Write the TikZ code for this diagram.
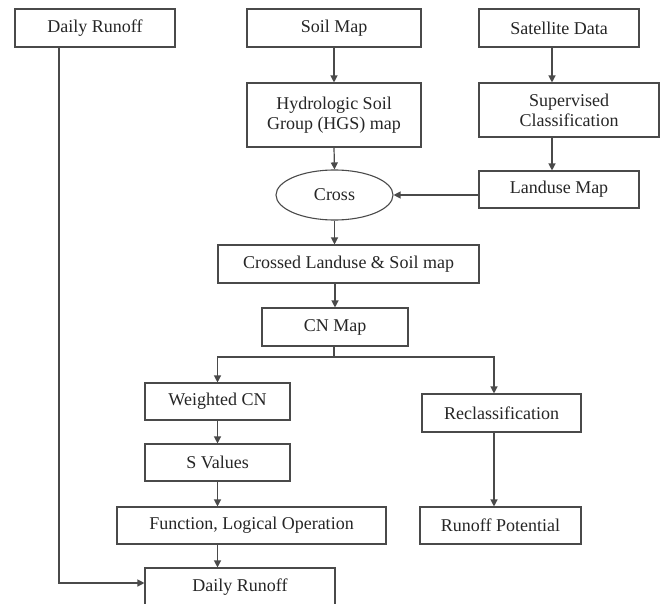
\documentclass[tikz,border=0pt]{standalone}
\usepackage{fontspec}
\setmainfont{Liberation Serif}
\usetikzlibrary{arrows.meta,shapes.geometric}
\definecolor{linec}{HTML}{4A4A4A}
\definecolor{textc}{HTML}{262626}
\begin{document}
\begin{tikzpicture}[x=1pt,y=-1pt,
  box/.style={draw=linec,line width=1.1pt,rectangle,inner sep=0pt,align=center,
    text=textc,font=\fontsize{18}{20}\selectfont},
  oval/.style={draw=linec,line width=1.1pt,ellipse,inner sep=0pt,
    text=textc,font=\fontsize{18}{20}\selectfont},
  conn/.style={draw=linec,line width=1.2pt},
  arr/.style={conn,-{Triangle[width=7pt,length=7pt]}}]
\useasboundingbox (0,0) rectangle (664,604);
\clip (0,0) rectangle (664,604);
\fill[white] (0,0) rectangle (664,604);
% nodes
\node[box,minimum width=160pt,minimum height=38pt] (dr1) at (95,28) {Daily Runoff};
\node[box,minimum width=174pt,minimum height=38pt] (soil) at (334,28) {Soil Map};
\node[box,minimum width=160pt,minimum height=38pt] (sat) at (559,28) {Satellite Data};
\node[box,minimum width=174pt,minimum height=64pt] (hsg) at (334,115) {Hydrologic Soil\\Group (HGS) map};
\node[box,minimum width=180pt,minimum height=54pt] (sup) at (569,110) {Supervised\\Classification};
\node[box,minimum width=160pt,minimum height=37pt] (land) at (559,189.5) {Landuse Map};
\node[oval,minimum width=117pt,minimum height=50pt] (cross) at (334.5,195) {Cross};
\node[box,minimum width=261pt,minimum height=38pt] (crossed) at (348.5,264) {Crossed Landuse \& Soil map};
\node[box,minimum width=146pt,minimum height=38pt] (cn) at (335,327) {CN Map};
\node[box,minimum width=145pt,minimum height=37pt] (wcn) at (217.5,401.5) {Weighted CN};
\node[box,minimum width=159pt,minimum height=38pt] (recl) at (501.5,413) {Reclassification};
\node[box,minimum width=145pt,minimum height=37pt] (sval) at (217.5,462.5) {S Values};
\node[box,minimum width=269pt,minimum height=37pt] (func) at (251.5,525.5) {Function, Logical Operation};
\node[box,minimum width=161pt,minimum height=37pt] (rpot) at (500.5,525.5) {Runoff Potential};
\node[box,minimum width=190pt,minimum height=38pt] (dr2) at (240,587) {Daily Runoff};
% helper coordinates
\coordinate (sx) at (552,0);
\coordinate (br) at (334,357);
\coordinate (rx) at (494,0);
\coordinate (lx) at (59,0);
\coordinate (ly) at (0,583);
% connectors
\draw[arr] (soil) -- (hsg);
\draw[arr] (hsg.south) -- (cross.north);
\draw[arr] (sat.south -| sx) -- (sup.north -| sx);
\draw[arr] (sup.south -| sx) -- (land.north -| sx);
\draw[arr] (land.west |- cross.east) -- (cross.east);
\draw[arr] (cross.south) -- (crossed.north -| cross.south);
\draw[arr] (crossed.south -| cn.north) -- (cn.north);
\draw[conn] (cn.south -| br) -- (br);
\draw[arr] (br) -| (wcn.north);
\draw[arr] (br) -| (recl.north -| rx);
\draw[arr] (recl.south -| rx) -- (rpot.north -| rx);
\draw[arr] (wcn) -- (sval);
\draw[arr] (sval.south) -- (func.north -| sval.south);
\draw[arr] (func.south -| sval.south) -- (dr2.north -| sval.south);
\draw[arr] (dr1.south -| lx) |- (dr2.west |- ly);
\end{tikzpicture}
\end{document}
